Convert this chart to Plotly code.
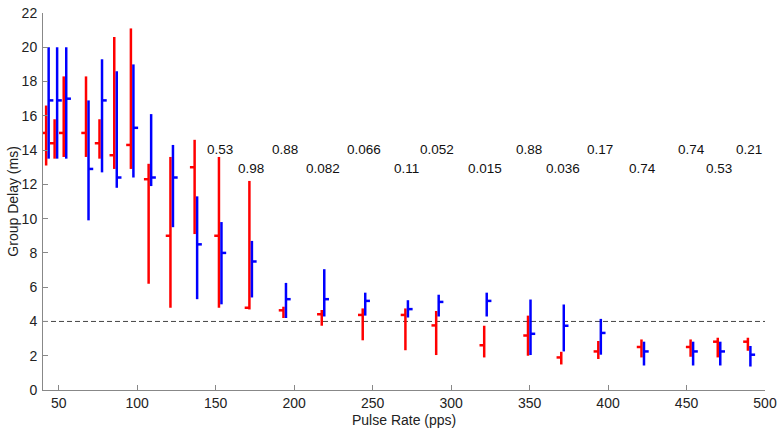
import plotly.graph_objects as go

# Pulse rates (pps) of each comparison group
rates = [42.8, 48.2, 54.0, 68.2, 76.8, 86.2, 96.8, 108.1, 122.0, 137.4, 152.9, 172.3,
         194.0, 218.4, 244.5, 271.7, 291.3, 321.9, 349.8, 371.0, 394.6, 422.1, 453.4,
         470.7, 489.9]

# Red series: low, median, high (ms)
red_low = [13.1, 13.5, 13.6, 13.6, 13.5, 12.9, 12.9, 6.2, 4.8, 9.1, 4.8, 4.7,
           4.2, 3.75, 2.9, 2.32, 2.04, 1.9, 2.0, 1.49, 1.81, 1.9, 1.94, 1.9, 2.29]
red_med = [15.0, 14.4, 15.0, 15.0, 14.4, 13.7, 14.3, 12.3, 9.0, 13.0, 9.0, 4.8,
           4.65, 4.42, 4.38, 4.38, 3.77, 2.61, 3.18, 1.9, 2.25, 2.51, 2.51, 2.82, 2.82]
red_high = [16.6, 15.8, 18.3, 18.3, 15.8, 20.6, 21.1, 13.2, 13.6, 14.6, 13.6, 12.2,
            4.86, 4.67, 4.76, 4.76, 4.61, 3.75, 4.34, 2.23, 2.86, 2.95, 2.95, 3.05, 3.05]

# Blue series: low, median, high (ms)
blue_low = [13.5, 13.5, 13.5, 9.9, 12.7, 11.8, 12.4, 11.9, 9.5, 5.3, 5.0, 5.4,
            4.2, 4.29, 4.34, 4.23, 4.29, 4.29, 2.04, 2.25, 2.06, 1.43, 1.43, 1.43, 1.37]
blue_med = [16.9, 16.9, 17.0, 12.9, 16.9, 12.4, 15.3, 12.4, 12.4, 8.5, 8.0, 7.5,
            5.3, 5.3, 5.2, 4.72, 5.14, 5.2, 3.28, 3.75, 3.33, 2.25, 2.25, 2.25, 2.06]
blue_high = [20.0, 20.0, 20.0, 16.9, 19.3, 18.6, 19.0, 16.1, 14.3, 11.3, 9.8, 8.7,
             6.25, 7.05, 5.68, 5.24, 5.56, 5.68, 5.28, 4.99, 4.15, 2.82, 2.82, 2.82, 2.57]

# p-value labels (from the 11th group onwards)
p_labels = ["0.53", "0.98", "0.88", "0.082", "0.066", "0.11", "0.052", "0.015",
            "0.88", "0.036", "0.17", "0.74", "0.74", "0.53", "0.21"]
p_start = 10
ref_delay = 4

x_ticks = [50, 100, 150, 200, 250, 300, 350, 400, 450, 500]
y_ticks = list(range(0, 23, 2))

OFF = 0.8   # horizontal offset of each series from the pulse rate
TICK = 3.0  # median tick length (x units)


def segments(xc, lo, md, hi, side):
    xs, ys = [], []
    for x, a, m, b in zip(xc, lo, md, hi):
        xs += [x, x, None, x, x + side * TICK, None]
        ys += [a, b, None, m, m, None]
    return xs, ys


fig = go.Figure()
rx = [r - OFF for r in rates]
bx = [r + OFF for r in rates]
xs, ys = segments(rx, red_low, red_med, red_high, -1)
fig.add_trace(go.Scatter(x=xs, y=ys, mode="lines", line=dict(color="#ff0000", width=2.5),
                         showlegend=False, hoverinfo="skip"))
xs, ys = segments(bx, blue_low, blue_med, blue_high, 1)
fig.add_trace(go.Scatter(x=xs, y=ys, mode="lines", line=dict(color="#0000ff", width=2.5),
                         showlegend=False, hoverinfo="skip"))

fig.add_shape(type="line", xref="x", yref="y", x0=40, x1=500, y0=ref_delay, y1=ref_delay,
              line=dict(color="#444444", width=1, dash="5px,3px"), layer="below")

for i, lab in enumerate(p_labels):
    gi = p_start + i
    yv = 14.06 if i % 2 == 0 else 12.9
    fig.add_annotation(x=rates[gi], y=yv, xref="x", yref="y", text=lab,
                       showarrow=False, xanchor="center", yanchor="middle",
                       font=dict(size=13.5, color="#111111", family="Liberation Sans, Arial"))

fig.add_annotation(x=0.5, y=-(421 - 390) / 385, xref="paper", yref="paper",
                   text="Pulse Rate (pps)", showarrow=False, xanchor="center", yanchor="middle",
                   font=dict(size=14, color="#222222"))
fig.add_annotation(x=-(43 - 12) / 725, y=(390 - 197.5) / 385, xref="paper", yref="paper",
                   text="Group Delay (ms)", textangle=-90, showarrow=False,
                   xanchor="center", yanchor="middle", font=dict(size=14, color="#222222"))

axis_common = dict(showgrid=False, zeroline=False, showline=True, linecolor="#888888",
                   linewidth=1, ticks="inside", ticklen=5, tickcolor="#888888",
                   tickfont=dict(size=14, color="#222222"), mirror=False,
                   ticklabeloverflow="allow")
fig.update_xaxes(range=[40, 500], tickvals=x_ticks, ticktext=[str(v) for v in x_ticks], **axis_common)
fig.update_yaxes(range=[0, 22], tickvals=y_ticks, ticktext=[str(v) for v in y_ticks],
                 ticklabelstandoff=2, **axis_common)

fig.update_layout(width=782, height=433, margin=dict(l=43, r=14, t=5, b=43),
                  paper_bgcolor="white", plot_bgcolor="white",
                  font=dict(family="Liberation Sans, Arial, sans-serif", color="#222222"))

fig.write_html("out.html")
